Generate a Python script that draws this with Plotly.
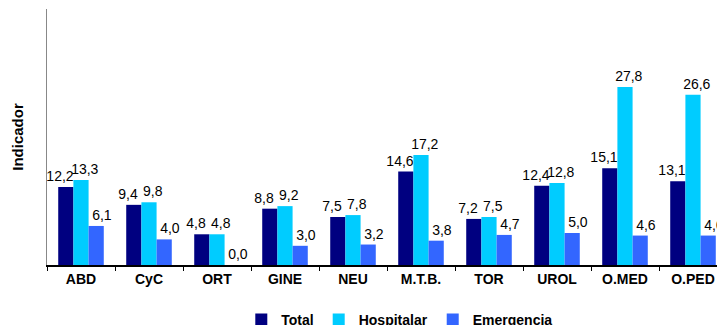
import plotly.graph_objects as go

categories = ["ABD", "CyC", "ORT", "GINE", "NEU", "M.T.B.", "TOR", "UROL", "O.MED", "O.PED"]
total = [12.2, 9.4, 4.8, 8.8, 7.5, 14.6, 7.2, 12.4, 15.1, 13.1]
hospitalar = [13.3, 9.8, 4.8, 9.2, 7.8, 17.2, 7.5, 12.8, 27.8, 26.6]
emergencia = [6.1, 4.0, 0.0, 3.0, 3.2, 3.8, 4.7, 5.0, 4.6, 4.6]

NB = "\u00a0"
# (name, values, colour, label template) - padding nudges labels like the original
series = [
    ("Total", total, "#000080", "%{y:.1f}" + NB * 3),
    ("Hospitalar", hospitalar, "#00CCFF", NB * 2 + "%{y:.1f}"),
    ("Emergencia", emergencia, "#3366FF", NB * 3 + "%{y:.1f}"),
]

FONT = "Liberation Sans, Arial, sans-serif"

fig = go.Figure()
for name, vals, color, tmpl in series:
    fig.add_trace(go.Bar(
        x=categories, y=vals, name=name,
        marker=dict(color=color, line=dict(width=0)),
        texttemplate=tmpl, textposition="outside",
        textfont=dict(family=FONT, size=14, color="#000000"),
        constraintext="none", cliponaxis=True,
    ))

fig.update_layout(
    width=717, height=325,
    margin=dict(l=47, r=0, t=9, b=60, autoexpand=False),
    paper_bgcolor="white", plot_bgcolor="white",
    separators=",.",
    barmode="group", bargap=0.33, bargroupgap=0,
    font=dict(family=FONT, size=14, color="#000000"),
    showlegend=True,
    legend=dict(
        orientation="h", x=0.29, xanchor="left", y=-0.152, yanchor="top",
        font=dict(family=FONT, size=14, color="#000000", weight="bold"),
        bgcolor="rgba(0,0,0,0)", itemwidth=30,
    ),
    xaxis=dict(
        range=[-0.5, 9.353], showgrid=False, automargin=False,
        showline=True, linecolor="#000000", linewidth=2,
        ticks="outside", ticklen=4, tickcolor="#000000", tickwidth=1,
        tickson="boundaries",
        tickfont=dict(family=FONT, size=14, color="#000000", weight="bold"),
    ),
    yaxis=dict(
        range=[0, 40], showgrid=False, zeroline=False, automargin=False,
        showline=True, linecolor="#888888", linewidth=1,
        showticklabels=False, ticks="",
        title=dict(text="Indicador", standoff=18,
                   font=dict(family=FONT, size=15, color="#000000", weight="bold")),
    ),
)

fig.write_html(
    "out.html",
    config={"displayModeBar": False},
    post_script="document.body.style.margin='0';document.body.style.padding='0';",
)
